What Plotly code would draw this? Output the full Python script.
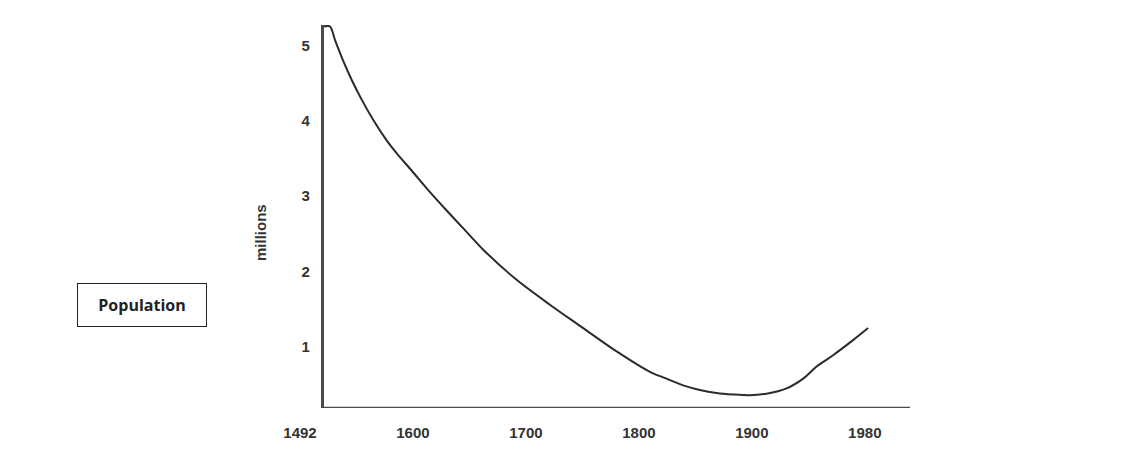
import plotly.graph_objects as go

# Schematic axis: tick labels are spaced evenly, so positions are nominal
# (1500 stands for the "1492" tick, 2000 for the "1980" tick)
tick_pos = [1500, 1600, 1700, 1800, 1900, 2000]
tick_labels = ["1492", "1600", "1700", "1800", "1900", "1980"]

# Population curve (millions)
year_pos = [1520.6, 1526.5, 1531.0, 1537.8, 1545.8, 1554.6, 1564.9, 1576.7,
            1586.0, 1598.8, 1613.5, 1629.8, 1646.0, 1662.2, 1691.8, 1721.2,
            1750.7, 1780.3, 1809.7, 1824.5, 1839.2, 1854.0, 1868.8, 1883.5,
            1898.2, 1913.0, 1930.7, 1945.4, 1957.3, 1971.9, 1989.6, 2002.9]
population = [5.25, 5.25, 5.07, 4.81, 4.54, 4.28, 4.01, 3.74,
              3.56, 3.34, 3.08, 2.81, 2.55, 2.29, 1.89, 1.56,
              1.25, 0.94, 0.67, 0.58, 0.49, 0.43, 0.39, 0.37,
              0.36, 0.38, 0.45, 0.58, 0.74, 0.89, 1.09, 1.25]

x_range = [1500, 2040]
y_range = [0.19, 5.27]
x_start = 1519.2  # where the drawn x-axis line begins (at the y axis)

fig = go.Figure()

fig.add_trace(
    go.Scatter(
        x=year_pos,
        y=population,
        mode="lines",
        line=dict(color="#2b2b2b", width=2, shape="spline", smoothing=0.9),
        showlegend=False,
        hoverinfo="skip",
    )
)

axis_font = dict(family="Liberation Sans, Arial, sans-serif", size=15,
                 color="#333333", weight="bold")

# page body has an 8px offset, so margins are shifted to compensate
fig.update_layout(
    width=1129,
    height=459,
    margin=dict(l=292, r=227, t=17, b=59),
    paper_bgcolor="white",
    plot_bgcolor="white",
    xaxis=dict(
        range=x_range,
        tickvals=tick_pos,
        ticktext=tick_labels,
        tickfont=axis_font,
        showgrid=False,
        zeroline=False,
        showline=False,
        ticks="",
        ticklabelstandoff=14,
    ),
    yaxis=dict(
        range=y_range,
        tickvals=[1, 2, 3, 4, 5],
        tickfont=axis_font,
        showgrid=False,
        zeroline=False,
        showline=True,
        linecolor="#4a4a4a",
        linewidth=2.5,
        ticks="",
        anchor="free",
        position=(x_start - x_range[0]) / (x_range[1] - x_range[0]),
        ticklabelstandoff=8,
    ),
    shapes=[
        dict(
            type="line",
            xref="x",
            yref="y",
            x0=x_start,
            x1=x_range[1],
            y0=y_range[0],
            y1=y_range[0],
            line=dict(color="#4a4a4a", width=2.5),
        )
    ],
    annotations=[
        dict(
            text="millions",
            xref="paper",
            yref="paper",
            x=-0.0656,
            y=0.4595,
            xanchor="center",
            yanchor="middle",
            textangle=-90,
            showarrow=False,
            font=dict(family="Liberation Sans, Arial, sans-serif", size=15,
                      color="#333333", weight="bold"),
        ),
        dict(
            text="Population",
            xref="paper",
            yref="paper",
            x=-0.2585,
            y=0.269,
            xanchor="center",
            yanchor="middle",
            showarrow=False,
            width=124,
            height=38,
            borderpad=2,
            bordercolor="#222222",
            borderwidth=1,
            font=dict(family="Open Sans, Noto Sans, sans-serif", size=16,
                      color="#222222", weight="bold"),
        ),
    ],
)

fig.write_html("out.html")
